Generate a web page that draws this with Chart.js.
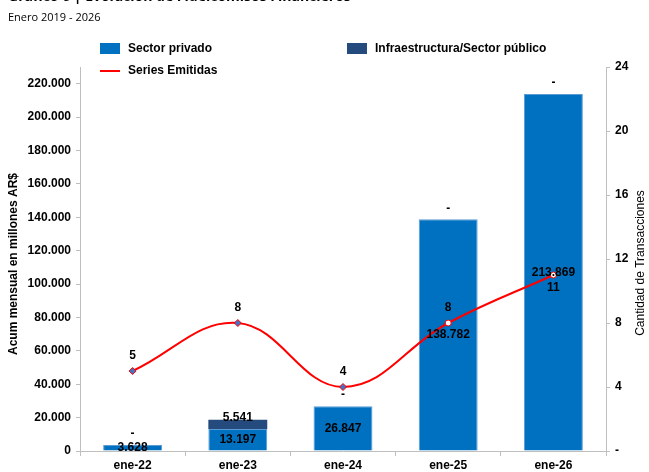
<!DOCTYPE html>
<html>
<head>
<meta charset="utf-8">
<script src="https://cdn.jsdelivr.net/npm/chart.js@4"></script>
<style>
  body { margin: 0; background: #fff; }
  #wrap { position: relative; width: 649px; height: 472px; overflow: hidden; }
  .t { position: absolute; font-family: "Open Sans", sans-serif; white-space: nowrap; color: #000; }
  .lg { position: absolute; font: bold 12px "Liberation Sans", Arial, sans-serif; white-space: nowrap; color: #000; }
  .sw { position: absolute; }
</style>
</head>
<body>
<div id="wrap">
  <canvas id="chart" width="649" height="472"></canvas>
  <div class="t" style="left:8px;top:-14px;font-weight:bold;font-size:14px;">Gráfico 6 | Evolución de Fideicomisos Financieros</div>
  <div class="t" style="left:8px;top:9px;font-size:11px;">Enero 2019 - 2026</div>
  <div id="legend"></div>
</div>
<script>
// datos
const categories = ["ene-22", "ene-23", "ene-24", "ene-25", "ene-26"];
const sectorPrivado = [3628, 13197, 26847, 138782, 213869];
const infraestructura = [0, 5541, 0, 0, 0];
const seriesEmitidas = [5, 8, 4, 8, 11];
const leftTicks = [0, 20000, 40000, 60000, 80000, 100000, 120000, 140000, 160000, 180000, 200000, 220000];
const rightTicks = [0, 4, 8, 12, 16, 20, 24];

const lineLabelPos = ["above", "above", "above", "above", "below"];
const FONT = '"Liberation Sans", Arial, sans-serif';

function fmt(v) {
  return String(v).replace(/\B(?=(\d{3})+(?!\d))/g, ".");
}

/* etiquetas de datos + titulos de ejes */
const labelPlugin = {
  id: "labels",
  afterDatasetsDraw(chart) {
    const ctx = chart.ctx;
    ctx.save();
    ctx.font = "bold 12px " + FONT;
    ctx.fillStyle = "#000";
    ctx.textAlign = "center";
    ctx.textBaseline = "middle";

    chart.getDatasetMeta(0).data.forEach((el, i) => {
      ctx.fillText(fmt(sectorPrivado[i]), el.x, (el.y + el.base) / 2);
    });
    chart.getDatasetMeta(1).data.forEach((el, i) => {
      const v = infraestructura[i];
      if (v) ctx.fillText(fmt(v), el.x, el.y - 2);
      else ctx.fillText("-", el.x, el.y - 11);
    });
    chart.getDatasetMeta(2).data.forEach((el, i) => {
      const dy = lineLabelPos[i] === "below" ? 13 : -15;
      ctx.fillText(String(seriesEmitidas[i]), el.x, el.y + dy);
    });

    // titulos
    ctx.font = "bold 12px " + FONT;
    ctx.translate(14, 264);
    ctx.rotate(-Math.PI / 2);
    ctx.fillText("Acum mensual en millones AR$", 0, 0);
    ctx.restore();

    ctx.save();
    ctx.font = "12px " + FONT;
    ctx.fillStyle = "#000";
    ctx.textAlign = "center";
    ctx.textBaseline = "middle";
    ctx.translate(641, 263);
    ctx.rotate(-Math.PI / 2);
    ctx.fillText("Cantidad de Transacciones", 0, 0);
    ctx.restore();
  }
};

const canvas = document.getElementById("chart");

const chart = new Chart(canvas, {
  type: "bar",
  data: {
    labels: categories,
    datasets: [
      {
        label: "Sector privado",
        data: sectorPrivado,
        backgroundColor: "#0070C0",
        borderColor: "#5B9BD5",
        borderWidth: 1,
        barPercentage: 0.56,
        categoryPercentage: 1,
        yAxisID: "y",
        order: 1
      },
      {
        label: "Infraestructura/Sector público",
        data: infraestructura,
        backgroundColor: "#254B7E",
        borderWidth: 0,
        barPercentage: 0.56,
        categoryPercentage: 1,
        yAxisID: "y",
        order: 1
      },
      {
        label: "Series Emitidas",
        type: "line",
        data: seriesEmitidas,
        borderColor: "#FF0000",
        borderWidth: 2,
        tension: 0.4,
        pointStyle: ["rectRot", "rectRot", "rectRot", "circle", "circle"],
        pointRadius: [3.5, 3.5, 3.5, 3, 3],
        pointBackgroundColor: ["#4472C4", "#4472C4", "#4472C4", "#ffffff", "#ffffff"],
        pointBorderColor: "#FF0000",
        pointBorderWidth: 1,
        yAxisID: "y1",
        order: 0
      }
    ]
  },
  options: {
    responsive: false,
    animation: false,
    layout: { padding: { top: 67, left: 0, right: 0, bottom: 0 } },
    plugins: {
      legend: { display: false },
      tooltip: { enabled: false }
    },
    scales: {
      x: {
        stacked: true,
        offset: true,
        grid: { offset: true, drawOnChartArea: false, tickLength: 5, color: "#bfbfbf" },
        border: { color: "#bfbfbf" },
        ticks: { font: { family: FONT, size: 12, weight: "bold" }, color: "#000", padding: 2, maxRotation: 0 },
        afterFit: s => { s.height = 21; }
      },
      y: {
        stacked: true,
        position: "left",
        min: 0,
        max: 230000,
        afterBuildTicks: axis => { axis.ticks = leftTicks.map(v => ({ value: v })); },
        grid: { drawOnChartArea: false, tickLength: 4, color: "#bfbfbf" },
        border: { color: "#bfbfbf" },
        ticks: {
          font: { family: FONT, size: 12, weight: "bold" },
          color: "#000",
          padding: 5,
          callback: v => fmt(v)
        },
        afterFit: s => { s.width = 80; }
      },
      y1: {
        position: "right",
        min: 0,
        max: 24,
        afterBuildTicks: axis => { axis.ticks = rightTicks.map(v => ({ value: v })); },
        grid: { drawOnChartArea: false, tickLength: 4, color: "#bfbfbf" },
        border: { color: "#bfbfbf" },
        ticks: {
          font: { family: FONT, size: 12, weight: "bold" },
          color: "#000",
          padding: 5,
          callback: v => (v === 0 ? "-" : v)
        },
        afterFit: s => { s.width = 43; }
      }
    }
  },
  plugins: [labelPlugin]
});

/* LEYENDA */
const legendSpots = [
  { x: 100, y: 43, kind: "box" },
  { x: 347, y: 43, kind: "box" },
  { x: 100, y: 65, kind: "line" }
];
const $legend = document.getElementById("legend");
chart.data.datasets.forEach((ds, i) => {
  const p = legendSpots[i];
  const sw = document.createElement("div");
  sw.className = "sw";
  if (p.kind === "box") {
    sw.style.cssText = `left:${p.x}px;top:${p.y}px;width:20px;height:11px;background:${ds.backgroundColor};`;
  } else {
    sw.style.cssText = `left:${p.x}px;top:${p.y + 5}px;width:20px;height:2px;background:${ds.borderColor};`;
  }
  const tx = document.createElement("div");
  tx.className = "lg";
  tx.style.cssText = `left:${p.x + 28}px;top:${p.y - 2}px;`;
  tx.textContent = ds.label;
  $legend.appendChild(sw);
  $legend.appendChild(tx);
});
</script>
</body>
</html>
